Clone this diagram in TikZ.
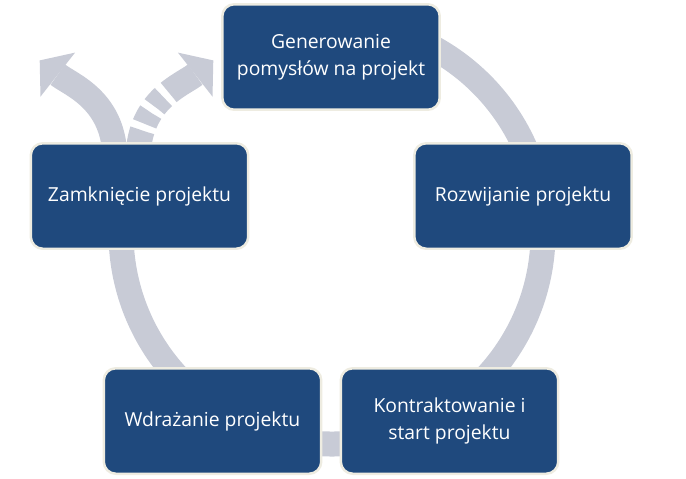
\documentclass[tikz,border=0pt]{standalone}
\usepackage{fontspec}
\setmainfont{Open Sans}
\usetikzlibrary{arrows.meta}
\definecolor{cyblue}{HTML}{1F497D}
\definecolor{cygray}{HTML}{C8CBD6}
\definecolor{cycream}{HTML}{EEECE1}

\begin{document}
\begin{tikzpicture}[x=0.02cm,y=-0.02cm,
 phase/.style={draw=cycream,line width=0.05cm,fill=cyblue,rounded corners=0.24cm,minimum width=4.35cm,minimum height=2.11cm,text=white,align=center,font=\fontsize{11}{15.4}\selectfont,inner sep=0pt},
 ring/.style={draw=cygray,line width=0.5cm},
 exit/.style={ring,-{Triangle[length=0.46cm,width=1.12cm,line width=0pt]}}
]
\useasboundingbox (0,0) rectangle (686,478);
% cycle behind the boxes
\coordinate (hub) at (332,233);
\draw[ring] (hub) ++(-100:211) arc[start angle=-100,end angle=195,radius=211];
% two ways out of the last phase
\coordinate (forkL) at (115,160);
\coordinate (forkR) at (138,160);
\coordinate (outL) at (39.7,60.4);
\coordinate (outR) at (213.3,60.4);
\draw[exit] (forkL) .. controls (115,100) and (71,85) .. (outL);
\draw[exit,dash pattern=on 0.6cm off 0.14cm on 0.26cm off 0.14cm on 0.26cm off 0.14cm on 4cm]
  (forkR) .. controls (138,100) and (182,85) .. (outR);

\node[phase] (gen) at (331,57) {Generowanie\\pomysłów na projekt};
\node[phase] (roz) at (523,196) {Rozwijanie projektu};
\node[phase] (kon) at (449.5,421) {Kontraktowanie i\\start projektu};
\node[phase] (wdr) at (212.5,421) {Wdrażanie projektu};
\node[phase] (zam) at (139.5,196) {Zamknięcie projektu};
\end{tikzpicture}
\end{document}
